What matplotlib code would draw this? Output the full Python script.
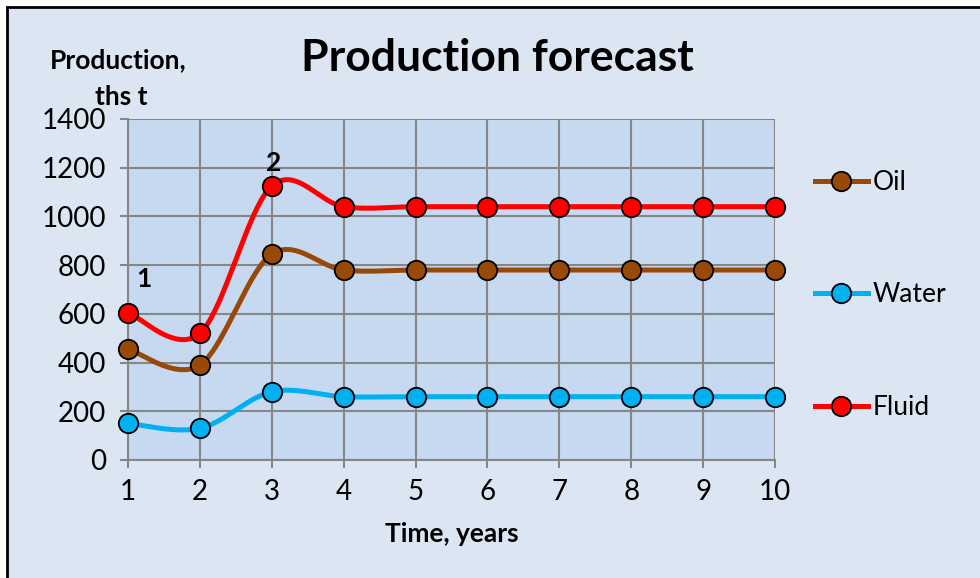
import numpy as np
import matplotlib.pyplot as plt
from matplotlib.patches import Rectangle

plt.rcParams['font.family'] = ['Lato', 'DejaVu Sans']

years = [1, 2, 3, 4, 5, 6, 7, 8, 9, 10]
oil = [455, 390, 845, 780, 780, 780, 780, 780, 780, 780]
water = [150, 130, 280, 260, 260, 260, 260, 260, 260, 260]
fluid = [605, 520, 1125, 1040, 1040, 1040, 1040, 1040, 1040, 1040]

series = [
    ("Oil", oil, "#984807"),
    ("Water", water, "#00b0f0"),
    ("Fluid", fluid, "#ff0000"),
]

# numbered points on the Fluid curve: text, x, y, offset in points
point_labels = [("1", 1, fluid[0], (11.5, 24.5)), ("2", 3, fluid[2], (1.5, 16.5))]


def smooth(xs, ys, n=40):
    # cubic Bezier through the points, control points from neighbours (/6)
    xs = np.asarray(xs, float)
    ys = np.asarray(ys, float)
    px = np.concatenate([[xs[0]], xs, [xs[-1]]])
    py = np.concatenate([[ys[0]], ys, [ys[-1]]])
    t = np.linspace(0, 1, n)[:, None]
    outx, outy = [], []
    for i in range(1, len(px) - 2):
        p0 = np.array([px[i], py[i]])
        p3 = np.array([px[i + 1], py[i + 1]])
        c1 = p0 + (np.array([px[i + 1], py[i + 1]]) - np.array([px[i - 1], py[i - 1]])) / 6
        c2 = p3 - (np.array([px[i + 2], py[i + 2]]) - p0) / 6
        seg = ((1 - t) ** 3) * p0 + 3 * ((1 - t) ** 2) * t * c1 + 3 * (1 - t) * t ** 2 * c2 + t ** 3 * p3
        outx.append(seg[:, 0])
        outy.append(seg[:, 1])
    return np.concatenate(outx), np.concatenate(outy)


fig = plt.figure(figsize=(9.8, 5.78), dpi=100, facecolor="white")
fig.patches.append(Rectangle((7 / 980, -0.01), 1.02, 1 - 7 / 578 + 0.01, transform=fig.transFigure,
                             facecolor="#dce6f2", edgecolor="black", linewidth=2, zorder=-5))

ax = fig.add_axes([128 / 980, 1 - 460 / 578, (775 - 128) / 980, (460 - 119) / 578])
ax.set_facecolor("#c6d9f1")

for name, vals, color in series:
    sx, sy = smooth(years, vals)
    ax.plot(sx, sy, color=color, lw=3.6, solid_capstyle="round", zorder=3, clip_on=False)
    ax.plot(years, vals, "o", color=color, markersize=14, markeredgecolor="black",
            markeredgewidth=1.3, zorder=4, clip_on=False)
    # legend handle
    ax.plot([], [], "-o", color=color, lw=3.6, markersize=14, markeredgecolor="black",
            markeredgewidth=1.3, label=name)

for txt, xv, yv, off in point_labels:
    ax.annotate(txt, (xv, yv), xytext=off, textcoords="offset points",
                ha="center", va="center", fontsize=19, fontweight="bold")

ax.set_xlim(1, 10)
ax.set_ylim(0, 1400)
ax.set_xticks(years)
ax.set_yticks(range(0, 1401, 200))
ax.grid(True, color="#868686", lw=1.5)
ax.set_axisbelow(True)
for s in ax.spines.values():
    s.set_color("#868686")
    s.set_linewidth(1.5)
ax.spines["top"].set_visible(False)
ax.spines["right"].set_visible(False)
ax.tick_params(axis="both", colors="#868686", width=1.5, length=6, labelsize=20, labelcolor="black")
ax.tick_params(axis="x", pad=8)
ax.tick_params(axis="y", pad=10)

ax.set_xlabel("Time, years", fontsize=19, fontweight="bold", labelpad=12)

fig.text(497 / 980, 1 - 58 / 578, "Production forecast", fontsize=32, fontweight="bold",
         ha="center", va="center")
fig.text(118 / 980, 1 - 60 / 578, "Production,", fontsize=19, fontweight="bold", ha="center", va="center")
fig.text(121 / 980, 1 - 97 / 578, "ths t", fontsize=19, fontweight="bold", ha="center", va="center")

leg = fig.legend(loc="upper left", bbox_to_anchor=(791 / 980, 1 - 146 / 578), frameon=False,
                 fontsize=19, handlelength=2.0, handletextpad=0.2, labelspacing=3.32)

fig.savefig("out.png", dpi=100, facecolor="white")
